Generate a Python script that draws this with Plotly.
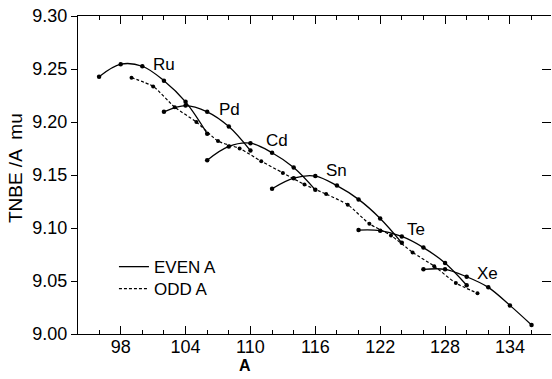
import plotly.graph_objects as go

# Even-A curves per element (solid)
ru_a = [96, 98, 100, 102, 104, 106]
ru_v = [9.2427, 9.2545, 9.2526, 9.2390, 9.2190, 9.1890]
pd_a = [102, 104, 106, 108, 110]
pd_v = [9.2096, 9.2155, 9.2096, 9.1957, 9.1730]
cd_a = [106, 108, 110, 112, 114, 116]
cd_v = [9.1640, 9.1770, 9.1800, 9.1710, 9.1570, 9.1360]
sn_a = [112, 114, 116, 118, 120, 122, 124]
sn_v = [9.1370, 9.1470, 9.1490, 9.1400, 9.1270, 9.1090, 9.0860]
te_a = [120, 122, 124, 126, 128, 130]
te_v = [9.0980, 9.0975, 9.0920, 9.0815, 9.0670, 9.0460]
xe_a = [126, 128, 130, 132, 134, 136]
xe_v = [9.0610, 9.0610, 9.0540, 9.0440, 9.0270, 9.0085]

# Odd-A (dashed)
odd_a = [99, 101, 103, 105, 107, 109, 111, 113, 115, 117, 119, 121, 123, 125, 127, 129, 131]
odd_v = [9.2418, 9.2336, 9.2140, 9.2000, 9.1820, 9.1750, 9.1630, 9.1520, 9.1410,
         9.1320, 9.1220, 9.1040, 9.0930, 9.0770, 9.0640, 9.0480, 9.0385]

# Element labels
labels = ["Ru", "Pd", "Cd", "Sn", "Te", "Xe"]
label_a = [102.0, 108.1, 112.5, 118.0, 125.3, 131.9]
label_v = [9.2547, 9.2120, 9.1830, 9.1540, 9.0985, 9.0570]

x_ticks = [98, 104, 110, 116, 122, 128, 134]
y_ticks = [9.00, 9.05, 9.10, 9.15, 9.20, 9.25, 9.30]

FONT = "Liberation Sans"
fig = go.Figure()

line_style = dict(color="black", width=1.3, shape="spline", smoothing=1.0)
for a, v in [(ru_a, ru_v), (pd_a, pd_v), (cd_a, cd_v), (sn_a, sn_v), (te_a, te_v), (xe_a, xe_v)]:
    fig.add_trace(go.Scatter(x=a, y=v, mode="lines+markers", line=line_style,
                             marker=dict(color="black", size=4.5), showlegend=False,
                             hoverinfo="skip"))

fig.add_trace(go.Scatter(x=odd_a, y=odd_v, mode="lines+markers",
                         line=dict(color="black", width=1.2, dash="3px,2px", shape="spline", smoothing=0.6),
                         marker=dict(color="black", size=4), showlegend=False, hoverinfo="skip"))

# legend-only entries (two legends for exact row placement)
fig.add_trace(go.Scatter(x=[None], y=[None], mode="lines", name="EVEN A",
                         line=dict(color="black", width=1.3), legend="legend"))
fig.add_trace(go.Scatter(x=[None], y=[None], mode="lines", name="ODD A",
                         line=dict(color="black", width=1.2, dash="3px,2px"), legend="legend2"))

# transparent trace on the right axis so its inward ticks are drawn
fig.add_trace(go.Scatter(x=[odd_a[0]], y=[odd_v[0]], yaxis="y2", mode="markers",
                         marker=dict(opacity=0), showlegend=False, hoverinfo="skip"))

for t, a, v in zip(labels, label_a, label_v):
    fig.add_annotation(x=a, y=v, text=t, showarrow=False,
                       font=dict(family=FONT, size=17, color="black"))

fig.add_annotation(xref="paper", yref="paper", x=-0.133, y=0.522, text="TNBE /A  mu",
                   textangle=-90, showarrow=False, xanchor="center", yanchor="middle",
                   font=dict(family=FONT, size=19, color="black"))
fig.add_annotation(xref="paper", yref="paper", x=0.354, y=-0.1, text="<b>A</b>",
                   showarrow=False, xanchor="center", yanchor="middle",
                   font=dict(family=FONT, size=16, color="black"))

legend_common = dict(xanchor="left", yanchor="top", bgcolor="rgba(0,0,0,0)",
                     font=dict(family=FONT, size=17, color="black"), itemwidth=30)
fig.update_layout(
    width=552, height=379,
    margin=dict(l=78, r=1, t=16, b=45),
    paper_bgcolor="white", plot_bgcolor="white",
    showlegend=True,
    legend=dict(x=0.076, y=0.267, **legend_common),
    legend2=dict(x=0.076, y=0.198, **legend_common),
    xaxis=dict(range=[94.05, 137.8], tickvals=x_ticks, ticktext=[str(t) for t in x_ticks],
               ticks="inside", ticklen=8, tickcolor="black", tickwidth=1,
               showline=True, linecolor="black", linewidth=1, mirror="ticks",
               showgrid=False, zeroline=False, ticklabelstandoff=-4,
               minor=dict(tick0=94, dtick=2, ticks="inside", ticklen=4, tickcolor="black"),
               tickfont=dict(family=FONT, size=18, color="black")),
    yaxis=dict(range=[9.00, 9.30], tickvals=y_ticks, ticktext=[f"{t:.2f}" for t in y_ticks],
               ticks="outside", ticklen=6, tickcolor="black", tickwidth=1,
               showline=True, linecolor="black", linewidth=1, mirror=False,
               showgrid=False, zeroline=False,
               tickfont=dict(family=FONT, size=18, color="black")),
    yaxis2=dict(range=[9.00, 9.30], tickmode="array", tickvals=y_ticks, overlaying="y",
                side="right", anchor="x", visible=True,
                ticks="inside", ticklen=9, tickwidth=1, tickcolor="black", showticklabels=False,
                showline=False, showgrid=False, zeroline=False),
)

fig.write_html("out.html", config={"displayModeBar": False},
               post_script="document.body.style.margin='0';")
